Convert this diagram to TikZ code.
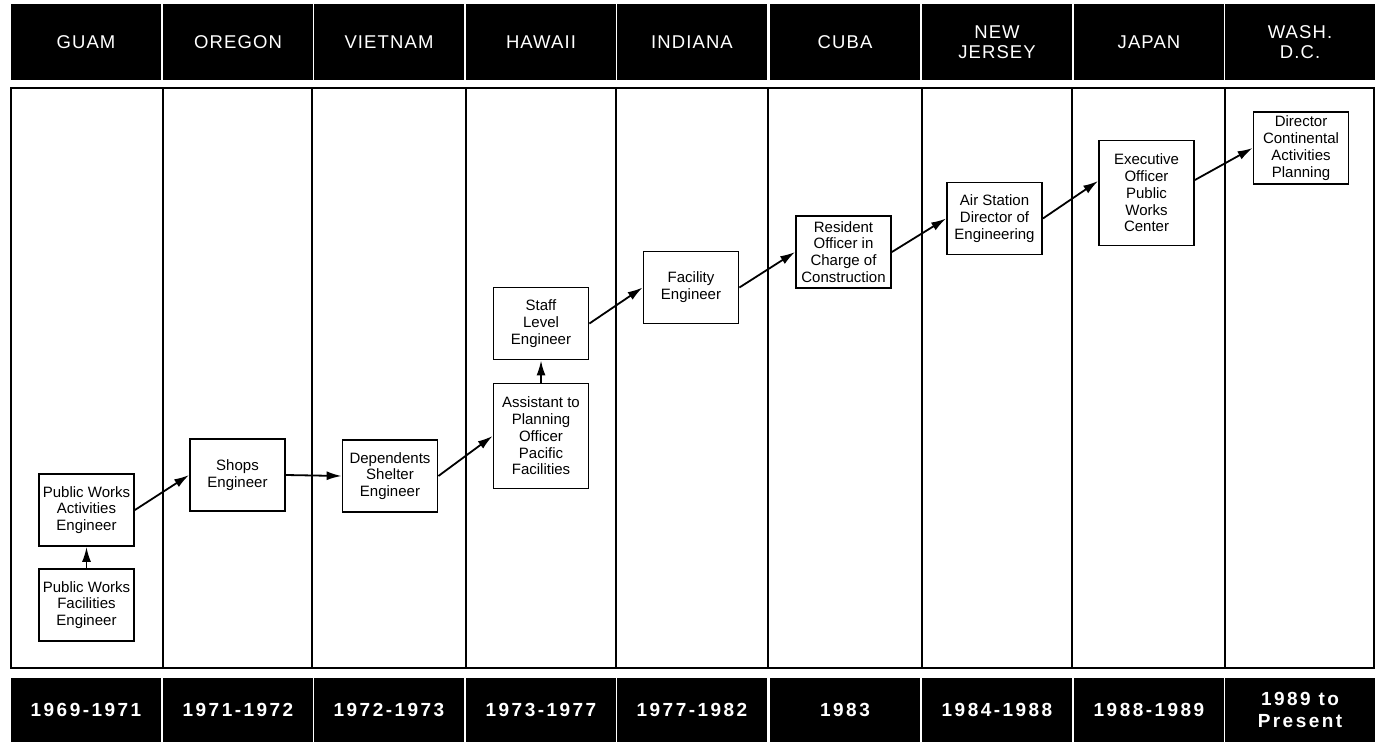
\documentclass[tikz,border=0pt]{standalone}
\usepackage{fontspec}
\setmainfont{Liberation Sans}
\newfontfamily\placefont{Liberation Sans}[LetterSpace=6]
\newfontfamily\datefont{Liberation Sans}[LetterSpace=13]
\usetikzlibrary{arrows.meta, positioning}

\begin{document}
\begin{tikzpicture}[x=1pt, y=-1pt,
      place/.style={rectangle, fill=black, text=white, minimum width=150pt, minimum height=76pt, align=center, font=\placefont\fontsize{18.5}{20}\selectfont},
      period/.style={rectangle, fill=black, text=white, minimum width=150pt, minimum height=64pt, align=center, font=\datefont\bfseries\fontsize{19}{22}\selectfont},
      post/.style={rectangle, draw=black, line width=1.8pt, fill=white, minimum width=95pt, minimum height=72pt, inner sep=1pt, align=center, font=\fontsize{15}{16.8}\selectfont},
      tallpost/.style={post, minimum height=105pt},
      arrow/.style={-{Latex[length=15pt, width=9pt]}, line width=1.8pt, black},
      divider/.style={line width=1.4pt, black},
    ]
    \useasboundingbox (0,0) rectangle (1380,744);

    \node[place] (guam) at (86,42) {GUAM};
    \node[place] (oregon) at (238,42) {OREGON};
    \node[place] (vietnam) at (389,42) {VIETNAM};
    \node[place] (hawaii) at (541,42) {HAWAII};
    \node[place] (indiana) at (692,42) {INDIANA};
    \node[place] (cuba) at (845,42) {CUBA};
    \node[place] (newjersey) at (997,42) {NEW\\JERSEY};
    \node[place] (japan) at (1149,42) {JAPAN};
    \node[place] (washdc) at (1300,42) {WASH.\\D.C.};

    \draw[line width=1.8pt] (11,88) rectangle (1374,668);
    \draw[divider] (163,88) -- (163,668);
    \draw[divider] (312,88) -- (312,668);
    \draw[divider] (466,88) -- (466,668);
    \draw[divider] (616,88) -- (616,668);
    \draw[divider] (768,88) -- (768,668);
    \draw[divider] (922,88) -- (922,668);
    \draw[divider] (1072,88) -- (1072,668);
    \draw[divider] (1225,88) -- (1225,668);

    \node[period] (p1) at (86,710) {1969-1971};
    \node[period] (p2) at (238,710) {1971-1972};
    \node[period] (p3) at (389,710) {1972-1973};
    \node[period] (p4) at (541,710) {1973-1977};
    \node[period] (p5) at (692,710) {1977-1982};
    \node[period] (p6) at (845,710) {1983};
    \node[period] (p7) at (997,710) {1984-1988};
    \node[period] (p8) at (1149,710) {1988-1989};
    \node[period] (p9) at (1300,710) {1989 to\\Present};

    \node[post] (pwa) at (86.5,510) {Public Works\\Activities\\Engineer};
    \node[post] (pwf) at (86.5,605) {Public Works\\Facilities\\Engineer};
    \node[post] (shops) at (237.5,475) {Shops\\Engineer};
    \node[post] (dependents) at (390,476) {Dependents\\Shelter\\Engineer};
    \node[tallpost] (assistant) at (541,436) {Assistant to\\Planning\\Officer\\Pacific\\Facilities};
    \node[post] (staff) at (541,323.5) {Staff\\Level\\Engineer};
    \node[post] (facility) at (691,287.5) {Facility\\Engineer};
    \node[post] (resident) at (843.5,252) {Resident\\Officer in\\Charge of\\Construction};
    \node[post] (airstation) at (994.5,218.5) {Air Station\\Director of\\Engineering};
    \node[tallpost] (executive) at (1146.5,193) {Executive\\Officer\\Public\\Works\\Center};
    \node[post] (director) at (1301,148) {Director\\Continental\\Activities\\Planning};

    \draw[arrow] (pwf) -- (pwa);
    \draw[arrow] (pwa.east) -- (shops.west);
    \draw[arrow] (shops.east) -- (dependents.west);
    \draw[arrow] (dependents.east) -- (assistant.west);
    \draw[arrow] (assistant) -- (staff);
    \draw[arrow] (staff.east) -- (facility.west);
    \draw[arrow] (facility.east) -- (resident.west);
    \draw[arrow] (resident.east) -- (airstation.west);
    \draw[arrow] (airstation.east) -- ([yshift=12pt]executive.west);
    \draw[arrow] ([yshift=13pt]executive.east) -- (director.west);
  \end{tikzpicture}
\end{document}
